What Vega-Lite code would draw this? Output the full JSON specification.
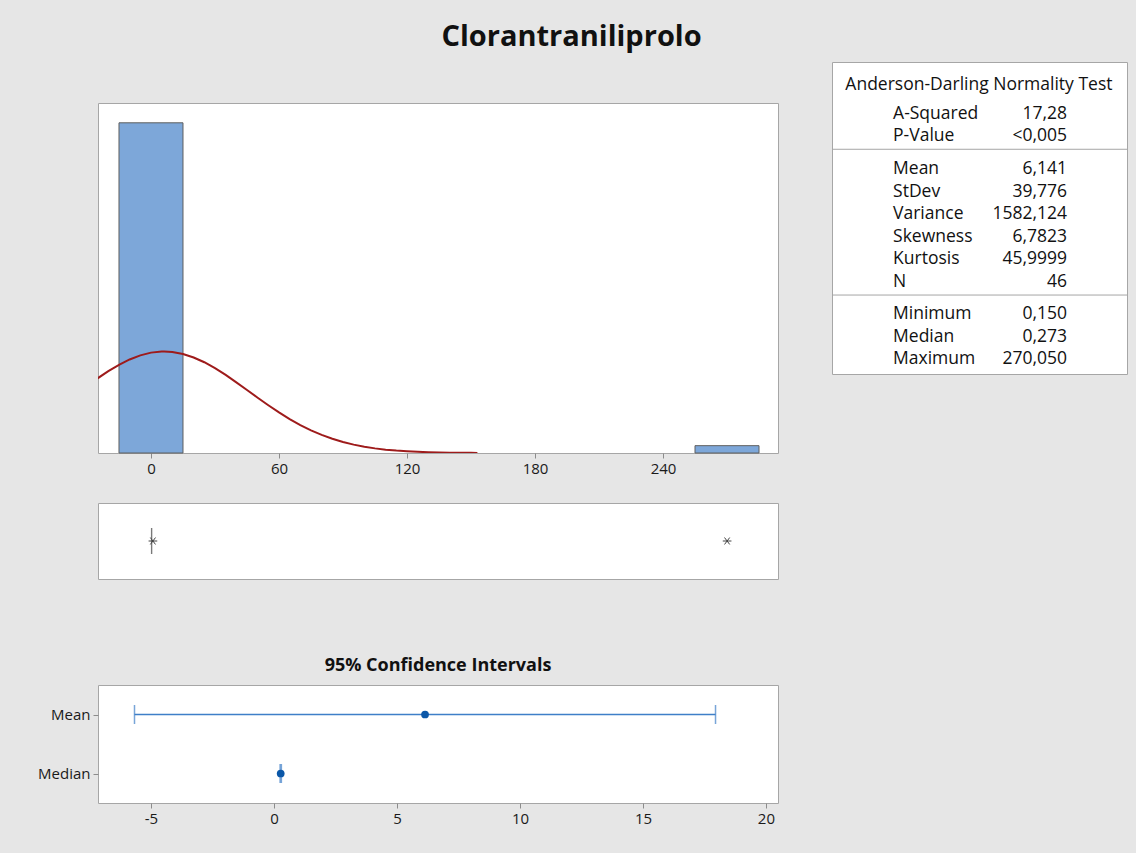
{
  "$schema": "https://vega.github.io/schema/vega-lite/v6.json",
  "background": "#e6e6e6",
  "padding": {"left": 37, "top": 22, "right": 10, "bottom": 28},
  "title": {
    "text": "Clorantraniliprolo",
    "font": "Open Sans",
    "fontSize": 29,
    "fontWeight": "bold",
    "color": "#111111",
    "anchor": "middle",
    "offset": 10,
    "dx": -11
  },
  "config": {
    "font": "Open Sans",
    "view": {"fill": "white", "stroke": "#a6a6a6", "strokeWidth": 1},
    "axis": {
      "labelFont": "Open Sans",
      "labelFontSize": 15,
      "labelColor": "#1a1a1a",
      "tickColor": "#8c8c8c",
      "tickSize": 5,
      "domain": false,
      "grid": false,
      "title": null
    }
  },
  "spacing": 52,
  "hconcat": [
    {
      "spacing": 76,
      "vconcat": [
        {
          "spacing": 25,
          "vconcat": [
            {
              "width": 680,
              "height": 15,
              "view": {"fill": null, "stroke": null},
              "data": {"values": [{}]},
              "mark": {"type": "text"},
              "encoding": {}
            },
            {
              "width": 680,
              "height": 350,
              "layer": [
                {
                  "data": {
                    "values": [
                      {"bin_start": -15, "bin_end": 15, "count": 45},
                      {"bin_start": 255, "bin_end": 285, "count": 1}
                    ]
                  },
                  "mark": {"type": "rect", "fill": "#7da7d9", "stroke": "#5f5f5f", "strokeWidth": 1},
                  "encoding": {
                    "x": {
                      "field": "bin_start",
                      "type": "quantitative",
                      "scale": {"domain": [-24.84, 293.9], "nice": false, "zero": false},
                      "axis": {"values": [0, 60, 120, 180, 240], "labelPadding": 3}
                    },
                    "x2": {"field": "bin_end"},
                    "y": {
                      "field": "count",
                      "type": "quantitative",
                      "scale": {"domain": [0, 47.7], "nice": false},
                      "axis": null
                    },
                    "y2": {"datum": 0}
                  }
                },
                {
                  "data": {
                    "values": [
                      {"value": -25, "fitted": 10.18},
                      {"value": -20, "fitted": 11.15},
                      {"value": -15, "fitted": 12.02},
                      {"value": -10, "fitted": 12.75},
                      {"value": -5, "fitted": 13.31},
                      {"value": 0, "fitted": 13.68},
                      {"value": 5, "fitted": 13.83},
                      {"value": 6.141, "fitted": 13.84},
                      {"value": 10, "fitted": 13.77},
                      {"value": 15, "fitted": 13.5},
                      {"value": 20, "fitted": 13.02},
                      {"value": 25, "fitted": 12.37},
                      {"value": 30, "fitted": 11.56},
                      {"value": 35, "fitted": 10.64},
                      {"value": 40, "fitted": 9.63},
                      {"value": 45, "fitted": 8.59},
                      {"value": 50, "fitted": 7.53},
                      {"value": 55, "fitted": 6.51},
                      {"value": 60, "fitted": 5.53},
                      {"value": 65, "fitted": 4.63},
                      {"value": 70, "fitted": 3.81},
                      {"value": 75, "fitted": 3.09},
                      {"value": 80, "fitted": 2.47},
                      {"value": 85, "fitted": 1.94},
                      {"value": 90, "fitted": 1.5},
                      {"value": 95, "fitted": 1.14},
                      {"value": 100, "fitted": 0.855},
                      {"value": 105, "fitted": 0.631},
                      {"value": 110, "fitted": 0.458},
                      {"value": 115, "fitted": 0.327},
                      {"value": 120, "fitted": 0.23},
                      {"value": 125, "fitted": 0.159},
                      {"value": 130, "fitted": 0.108},
                      {"value": 135, "fitted": 0.073},
                      {"value": 140, "fitted": 0.048},
                      {"value": 145, "fitted": 0.031},
                      {"value": 150, "fitted": 0.02},
                      {"value": 153, "fitted": 0.015}
                    ]
                  },
                  "mark": {"type": "line", "color": "#9e1b1b", "strokeWidth": 2, "clip": true},
                  "encoding": {
                    "x": {"field": "value", "type": "quantitative"},
                    "y": {"field": "fitted", "type": "quantitative"}
                  }
                }
              ]
            },
            {
              "width": 680,
              "height": 76,
              "layer": [
                {
                  "data": {"values": [{"stat": "Q1", "value": 0.2}, {"stat": "Q3", "value": 0.4}]},
                  "mark": {"type": "tick", "orient": "vertical", "size": 26, "thickness": 1, "color": "#5a5a5a"},
                  "encoding": {
                    "x": {
                      "field": "value",
                      "type": "quantitative",
                      "scale": {"domain": [-24.84, 293.9], "nice": false, "zero": false},
                      "axis": null
                    }
                  }
                },
                {
                  "data": {"values": [{"value": 0.9}, {"value": 270.05}]},
                  "mark": {
                    "type": "point",
                    "shape": "M-1,0L1,0M-0.6,-0.8L0.6,0.8M-0.6,0.8L0.6,-0.8",
                    "size": 75,
                    "filled": false,
                    "stroke": "#444444",
                    "strokeWidth": 1,
                    "opacity": 1
                  },
                  "encoding": {"x": {"field": "value", "type": "quantitative"}}
                }
              ]
            }
          ]
        },
        {
          "width": 680,
          "height": 118,
          "title": {
            "text": "95% Confidence Intervals",
            "fontSize": 18,
            "fontWeight": "bold",
            "color": "#111111",
            "offset": 10
          },
          "data": {
            "values": [
              {"stat": "Mean", "estimate": 6.141, "lower": -5.67, "upper": 17.95},
              {"stat": "Median", "estimate": 0.273, "lower": 0.25, "upper": 0.3}
            ]
          },
          "encoding": {
            "y": {
              "field": "stat",
              "type": "nominal",
              "sort": ["Mean", "Median"],
              "scale": {"type": "point", "padding": 0.5},
              "axis": {"labelPadding": 3}
            }
          },
          "layer": [
            {
              "mark": {"type": "rule", "color": "#3f7fc8", "strokeWidth": 1.5},
              "encoding": {
                "x": {
                  "field": "lower",
                  "type": "quantitative",
                  "scale": {"domain": [-7.154, 20.49], "nice": false, "zero": false},
                  "axis": {"values": [-5, 0, 5, 10, 15, 20], "labelPadding": 3, "labelExpr": "'' + datum.value"}
                },
                "x2": {"field": "upper"}
              }
            },
            {
              "mark": {"type": "tick", "size": 19, "thickness": 1.5, "color": "#3f7fc8"},
              "encoding": {"x": {"field": "lower", "type": "quantitative"}}
            },
            {
              "mark": {"type": "tick", "size": 19, "thickness": 1.5, "color": "#3f7fc8"},
              "encoding": {"x": {"field": "upper", "type": "quantitative"}}
            },
            {
              "mark": {"type": "point", "filled": true, "size": 60, "color": "#0b57a8", "opacity": 1},
              "encoding": {"x": {"field": "estimate", "type": "quantitative"}}
            }
          ]
        }
      ]
    },
    {
      "width": 295,
      "height": 312,
      "data": {
        "values": [
          {"kind": "header", "label": "Anderson-Darling Normality Test", "line": -0.17},
          {"kind": "row", "label": "A-Squared", "value": "17,28", "line": 1.13},
          {"kind": "row", "label": "P-Value", "value": "<0,005", "line": 2.13},
          {"kind": "sep", "line": 2.7},
          {"kind": "row", "label": "Mean", "value": "6,141", "line": 3.58},
          {"kind": "row", "label": "StDev", "value": "39,776", "line": 4.58},
          {"kind": "row", "label": "Variance", "value": "1582,124", "line": 5.58},
          {"kind": "row", "label": "Skewness", "value": "6,7823", "line": 6.58},
          {"kind": "row", "label": "Kurtosis", "value": "45,9999", "line": 7.58},
          {"kind": "row", "label": "N", "value": "46", "line": 8.58},
          {"kind": "sep", "line": 9.18},
          {"kind": "row", "label": "Minimum", "value": "0,150", "line": 10.03},
          {"kind": "row", "label": "Median", "value": "0,273", "line": 11.03},
          {"kind": "row", "label": "Maximum", "value": "270,050", "line": 12.03}
        ]
      },
      "encoding": {
        "y": {
          "field": "line",
          "type": "quantitative",
          "scale": {"domain": [-1.18, 12.69], "reverse": true, "nice": false, "zero": false},
          "axis": null
        }
      },
      "layer": [
        {
          "transform": [{"filter": "datum.kind === 'sep'"}],
          "mark": {"type": "rule", "color": "#a6a6a6", "strokeWidth": 1}
        },
        {
          "transform": [{"filter": "datum.kind === 'header'"}],
          "mark": {"type": "text", "align": "center", "baseline": "middle", "fontSize": 17.5, "color": "#111111"},
          "encoding": {
            "x": {"datum": 49.8, "type": "quantitative", "scale": {"domain": [0, 100], "nice": false, "zero": false}, "axis": null},
            "text": {"field": "label"}
          }
        },
        {
          "transform": [{"filter": "datum.kind === 'row'"}],
          "mark": {"type": "text", "align": "left", "baseline": "middle", "fontSize": 17.5, "color": "#111111"},
          "encoding": {
            "x": {"datum": 20.7, "type": "quantitative"},
            "text": {"field": "label"}
          }
        },
        {
          "transform": [{"filter": "datum.kind === 'row'"}],
          "mark": {"type": "text", "align": "right", "baseline": "middle", "fontSize": 17.5, "color": "#111111"},
          "encoding": {
            "x": {"datum": 79.7, "type": "quantitative"},
            "text": {"field": "value"}
          }
        }
      ]
    }
  ]
}
